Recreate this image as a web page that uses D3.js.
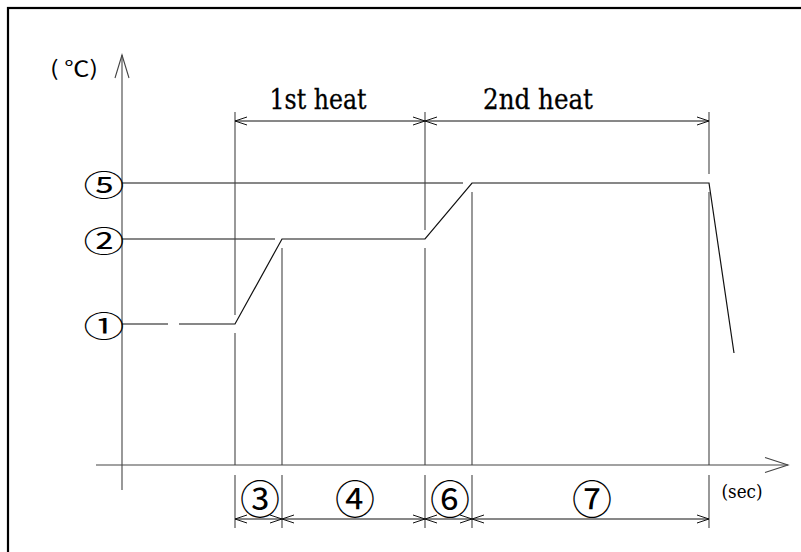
<!DOCTYPE html>
<html>
<head>
<meta charset="utf-8">
<script src="https://cdn.jsdelivr.net/npm/d3@7"></script>
<style>
  html, body { margin: 0; padding: 0; background: #fff; overflow: hidden; }
  svg { display: block; }
  .serif { font-family: "DejaVu Serif", "Liberation Serif", serif; }
  .cjk { font-family: "Noto Sans CJK JP", "Noto Sans CJK SC", sans-serif; }
</style>
</head>
<body>
<div id="chart"></div>
<script>
// ---- data (time in arbitrary units, temperature in arbitrary units) ----
const levelLabels = ["①", "②", "⑤"];
const levelTemps = [141, 226, 282];
const refLineEnds = [null, 153, 341];          // reference line end time for levels (null = drawn by profile)
const profileTimes = [0, 46, null, 57, 113, 160, 303, 350, 587, 612];
const profileTemps = [141, 141, null, 141, 141, 226, 226, 282, 282, 112];
const boundaryTimes = [113, 160, 303, 350, 587];
const boundaryHasTop = [true, false, true, false, true];
const topSpanLabels = ["1st heat", "2nd heat"];
const topSpanFrom = [113, 303];
const topSpanTo = [303, 587];
const topSpanLabelAt = [196, 416];
const bottomSpanLabels = ["③", "④", "⑥", "⑦"];
const bottomSpanFrom = [113, 160, 303, 350];
const bottomSpanTo = [160, 303, 350, 587];
const yUnit = "( ℃)";
const xUnit = "(sec)";

// ---- layout ----
const W = 801, H = 552;
const svg = d3.select("#chart").append("svg").attr("width", W).attr("height", H);

const x = d3.scaleLinear().domain([0, 666]).range([122, 788]);
const y = d3.scaleLinear().domain([0, 410]).range([465, 55]);

const ink = "#111";
const thin = "#444";

// frame
svg.append("rect").attr("x", 8).attr("y", 8).attr("width", 820).attr("height", 600)
  .attr("fill", "none").attr("stroke", "#000").attr("stroke-width", 2.2);

// axes
const axisG = svg.append("g").attr("stroke", thin).attr("stroke-width", 1.1).attr("fill", "none");
axisG.append("line").attr("x1", x(0)).attr("x2", x(0)).attr("y1", y(-25)).attr("y2", y(410));
axisG.append("path").attr("d", `M${x(0)-7},${y(410)+23}L${x(0)},${y(410)}L${x(0)+7},${y(410)+23}`);
axisG.append("line").attr("x1", x(-26)).attr("x2", x(666)).attr("y1", y(0)).attr("y2", y(0));
axisG.append("path").attr("d", `M${x(666)-23},${y(0)-7.5}L${x(666)},${y(0)}L${x(666)-23},${y(0)+7.5}`);

// reference lines for levels
const refG = svg.append("g").attr("stroke", ink).attr("stroke-width", 1.1);
levelTemps.forEach((T, i) => {
  if (refLineEnds[i] == null) return;
  refG.append("line").attr("x1", x(0)).attr("x2", x(refLineEnds[i])).attr("y1", y(T)).attr("y2", y(T));
});

// profile
const pts = profileTimes.map((t, i) => ({t, T: profileTemps[i]}));
const line = d3.line().defined(d => d.t != null).x(d => x(d.t)).y(d => y(d.T));
svg.append("path").attr("d", line(pts)).attr("fill", "none").attr("stroke", ink).attr("stroke-width", 1.2);

function profileAt(t) {
  const p = pts.filter(d => d.t != null);
  for (let i = 0; i < p.length - 1; i++) {
    if (t >= p[i].t && t <= p[i+1].t) {
      const f = (t - p[i].t) / (p[i+1].t - p[i].t);
      return p[i].T + f * (p[i+1].T - p[i].T);
    }
  }
  return p[p.length-1].T;
}

// boundaries (extension lines)
const dimTopY = 121, extTopY = 112, gap = 9;
const bG = svg.append("g").attr("stroke", thin).attr("stroke-width", 1.1);
boundaryTimes.forEach((t, i) => {
  const py = y(profileAt(t));
  if (boundaryHasTop[i]) {
    bG.append("line").attr("x1", x(t)).attr("x2", x(t)).attr("y1", extTopY).attr("y2", py - gap);
  }
  bG.append("line").attr("x1", x(t)).attr("x2", x(t)).attr("y1", py + gap).attr("y2", y(0));
  bG.append("line").attr("x1", x(t)).attr("x2", x(t)).attr("y1", y(0) + 10).attr("y2", y(0) + 63);
});

function dimLine(g, x1, x2, yy) {
  g.append("line").attr("x1", x1).attr("x2", x2).attr("y1", yy).attr("y2", yy);
  g.append("path").attr("fill", "none").attr("d", `M${x1+12},${yy-4}L${x1},${yy}L${x1+12},${yy+4}`);
  g.append("path").attr("fill", "none").attr("d", `M${x2-12},${yy-4}L${x2},${yy}L${x2-12},${yy+4}`);
}

const dG = svg.append("g").attr("stroke", ink).attr("stroke-width", 1);
topSpanFrom.forEach((f, i) => dimLine(dG, x(f), x(topSpanTo[i]), dimTopY));
const dimBotY = 519;
bottomSpanFrom.forEach((f, i) => dimLine(dG, x(f), x(bottomSpanTo[i]), dimBotY));

// labels
svg.selectAll(".toplab").data(topSpanLabels).enter().append("text")
  .attr("class", "serif")
  .attr("x", (d, i) => x(topSpanLabelAt[i])).attr("y", 109)
  .attr("text-anchor", "middle").attr("font-size", 27)
  .attr("fill", "#000").attr("stroke", "#000").attr("stroke-width", 0.3)
  .attr("textLength", (d, i) => i === 0 ? 97 : 110).attr("lengthAdjust", "spacingAndGlyphs")
  .text(d => d);

svg.selectAll(".botlab").data(bottomSpanLabels).enter().append("text")
  .attr("class", "cjk")
  .attr("transform", (d, i) => `translate(${x((bottomSpanFrom[i] + bottomSpanTo[i]) / 2 + 1.5)},${497})`)
  .attr("text-anchor", "middle").attr("dominant-baseline", "central")
  .attr("font-size", 40).attr("fill", "#000")
  .text(d => d);

svg.selectAll(".levlab").data(levelLabels).enter().append("text")
  .attr("class", "cjk")
  .attr("transform", (d, i) => `translate(${x(-18)},${y(levelTemps[i])}) scale(0.95,0.7)`)
  .attr("text-anchor", "middle").attr("dominant-baseline", "central")
  .attr("font-size", 43).attr("fill", "#000")
  .text(d => d);

svg.append("text").attr("class", "cjk").attr("x", 74).attr("y", 76).attr("text-anchor", "middle")
  .attr("font-size", 21).attr("fill", "#000").attr("textLength", 48).attr("lengthAdjust", "spacingAndGlyphs").text(yUnit);
svg.append("text").attr("class", "serif").attr("x", 742).attr("y", 498).attr("text-anchor", "middle")
  .attr("font-size", 18).attr("fill", "#000").attr("textLength", 41).attr("lengthAdjust", "spacingAndGlyphs").text(xUnit);
</script>
</body>
</html>
